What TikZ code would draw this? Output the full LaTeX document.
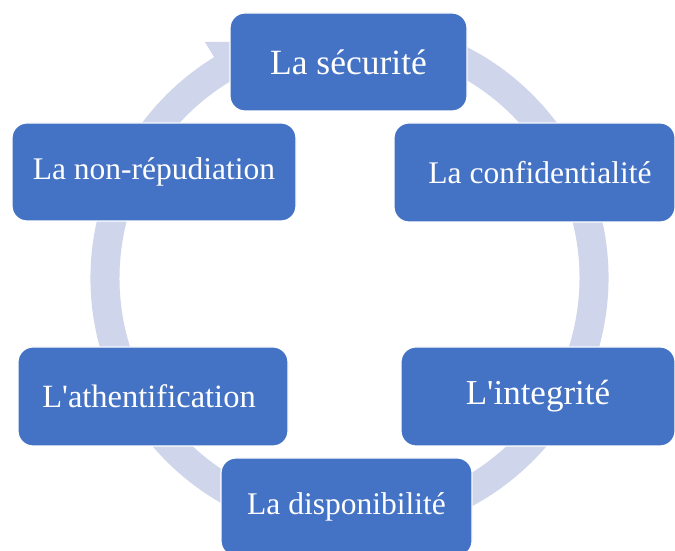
\documentclass[tikz,border=0pt]{standalone}
\usepackage{fontspec}
\setmainfont{Liberation Serif}[Ligatures=TeXOff]
\usetikzlibrary{calc}
\definecolor{boxblue}{HTML}{4472C4}
\definecolor{ringblue}{HTML}{CFD5EA}
\tikzset{
  stage/.style={fill=boxblue, draw=white, line width=1.2pt, rounded corners=15pt,
    inner sep=0pt, text=white, align=center},
  ringfill/.style={fill=ringblue, draw=none}
}
\begin{document}
\begin{tikzpicture}[x=1pt,y=1pt]
\clip (0,0) rectangle (675,551);
\fill[white] (0,0) rectangle (675,551);
\coordinate (C) at (349.5,273);
% circular arrow running clockwise behind the stages
\fill[ringfill]
  ($(C)+(80:259)$) arc[start angle=80, end angle=-238.5, radius=259]
  -- ($(C)+(121.5:277)$) -- ($(C)+(105:244.5)$) -- ($(C)+(121.5:212)$)
  -- ($(C)+(121.5:230)$) arc[start angle=-238.5, end angle=80, radius=230]
  -- cycle;
% stages
\node[stage, minimum width=237pt, minimum height=98pt, font=\fontsize{35.5}{40}\selectfont]
  (sec) at (348.5,489) {La sécurité};
\node[stage, minimum width=281pt, minimum height=99pt, font=\fontsize{31.5}{36}\selectfont]
  (conf) at (534.5,378.5) {\hspace*{11pt}La confidentialité};
\node[stage, minimum width=274pt, minimum height=99pt, font=\fontsize{35}{40}\selectfont]
  (integ) at (538,154.5) {L'integrité};
\node[stage, minimum width=251pt, minimum height=98pt, font=\fontsize{31.5}{36}\selectfont]
  (dispo) at (346.5,44) {La disponibilité};
\node[stage, minimum width=270pt, minimum height=99pt, font=\fontsize{32.5}{36}\selectfont]
  (auth) at (153,154.5) {L'athentification\hspace*{8pt}};
\node[stage, minimum width=284pt, minimum height=98pt, font=\fontsize{31.5}{36}\selectfont]
  (nonrep) at (154,379) {La non-répudiation};
\end{tikzpicture}
\end{document}
